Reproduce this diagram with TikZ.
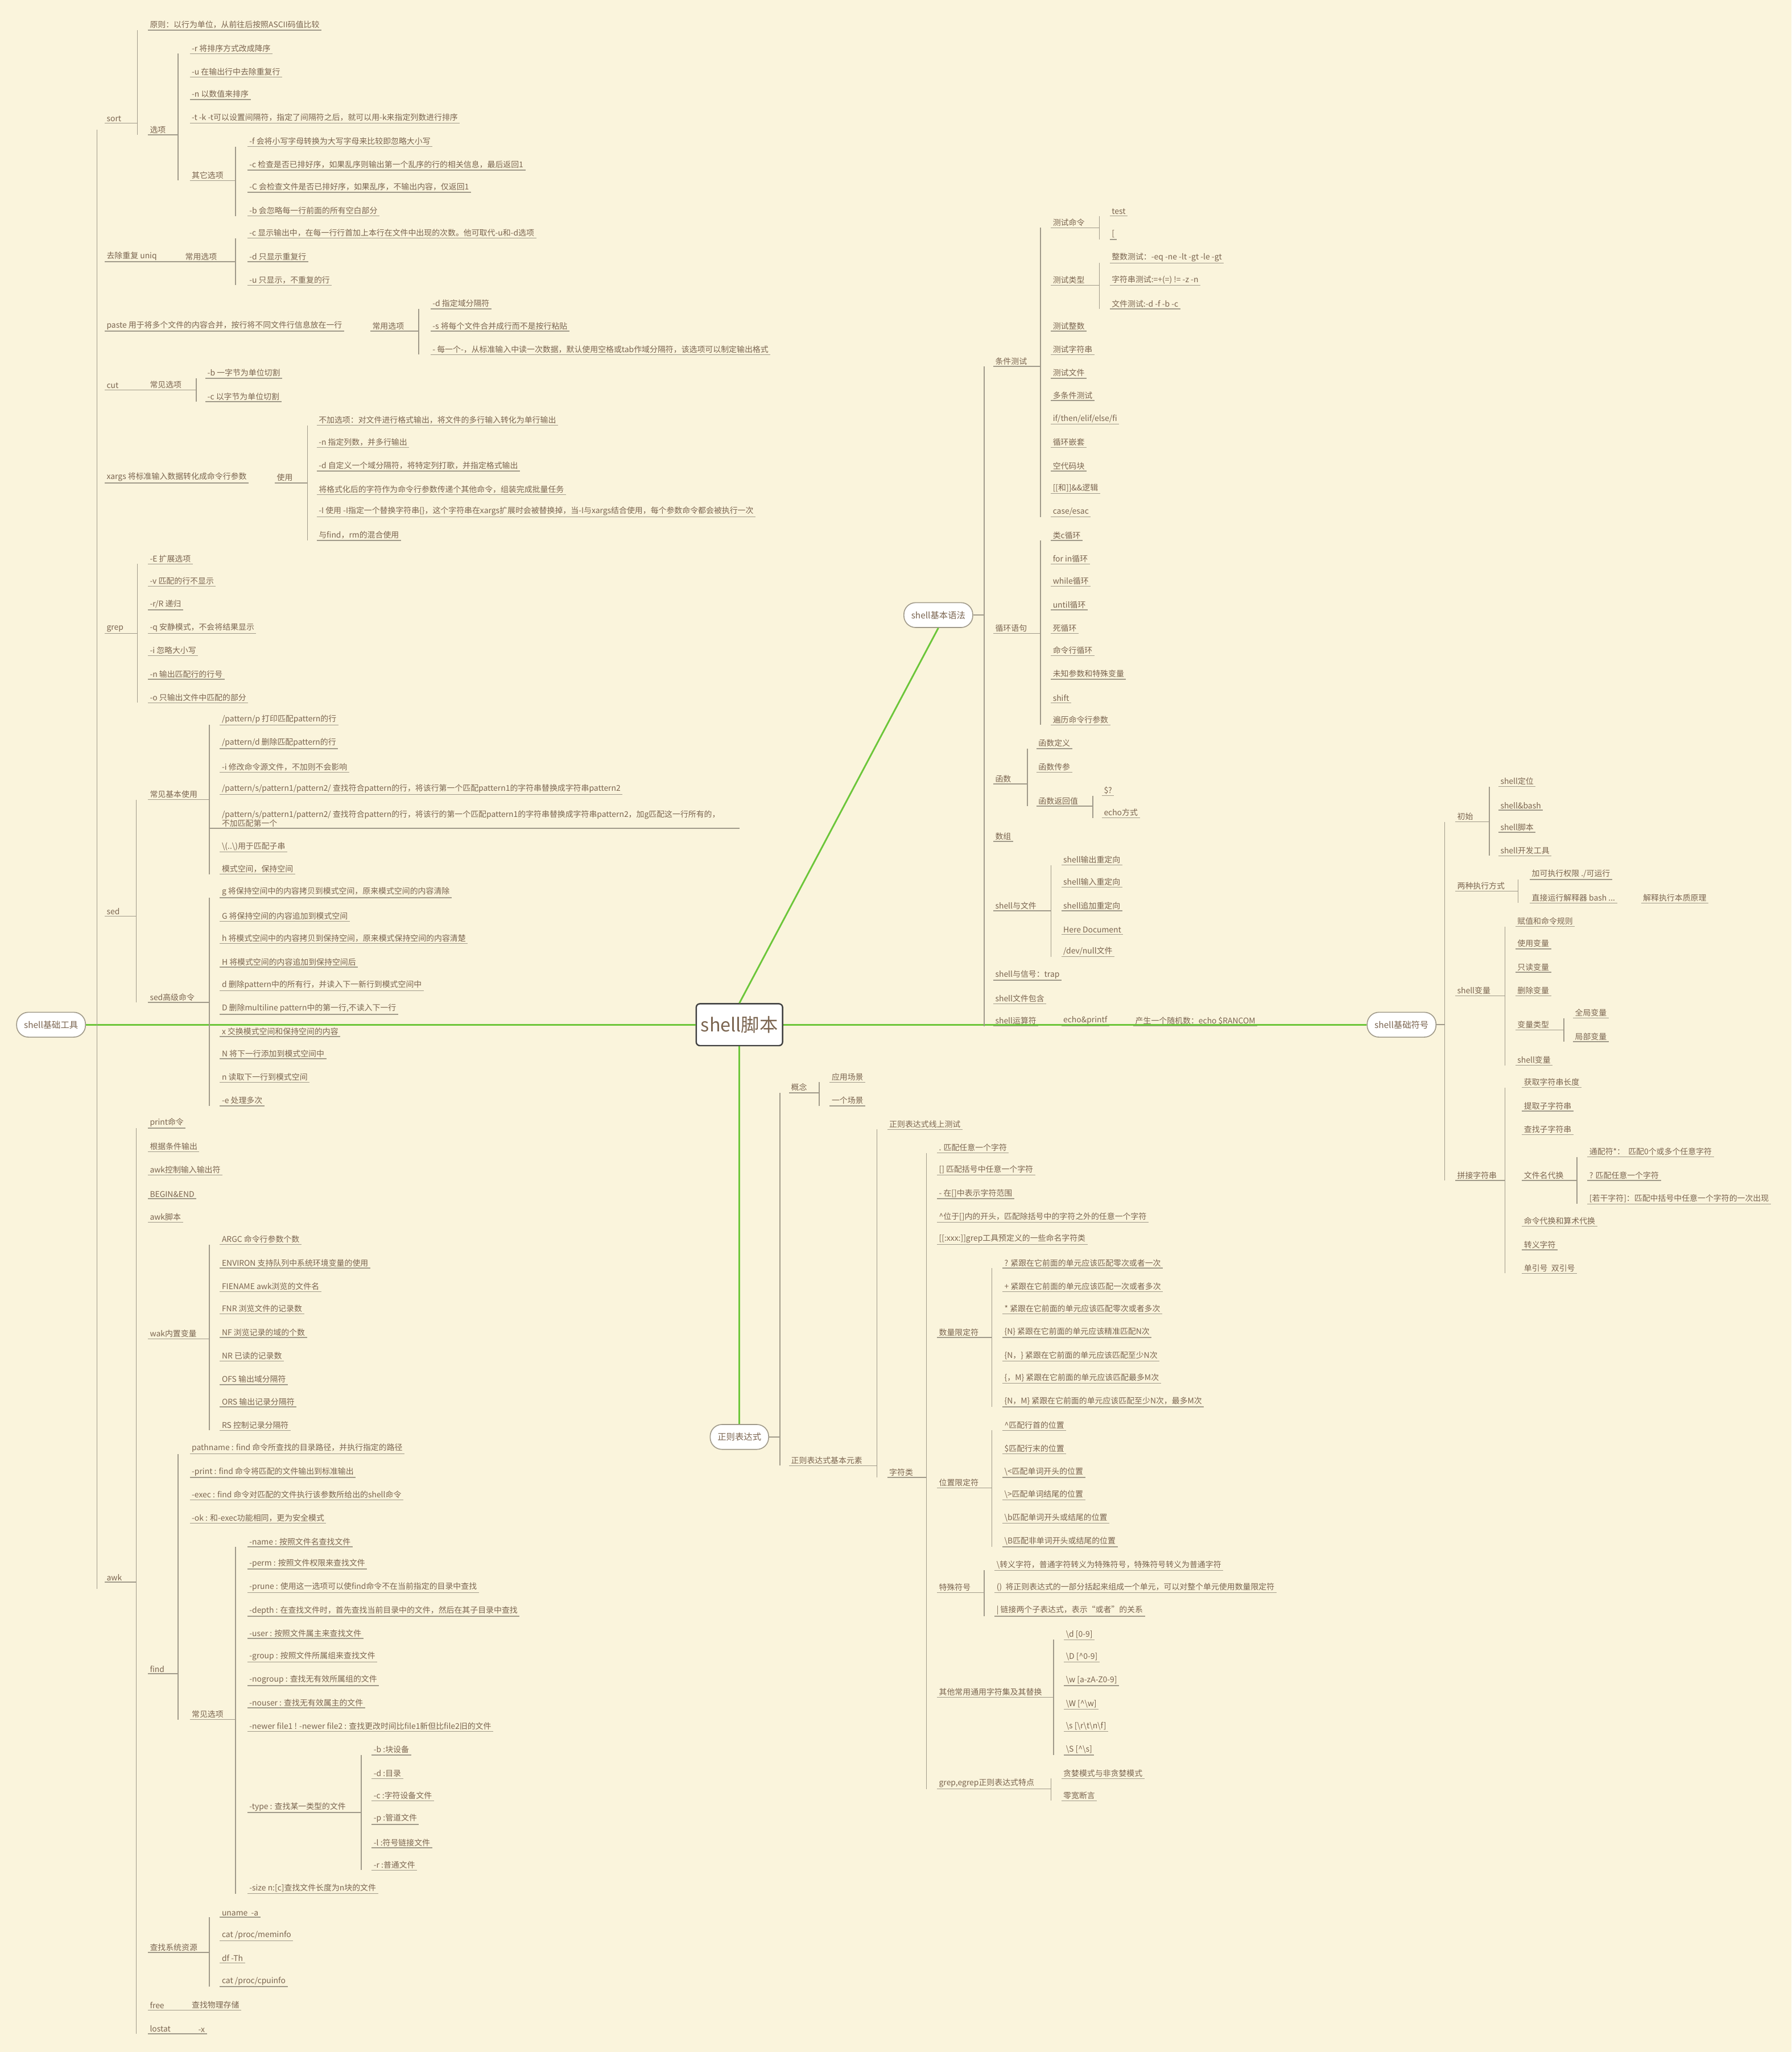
\documentclass[tikz,border=0pt]{standalone}
\usepackage{fontspec}
\setmainfont{Noto Sans CJK SC}
\definecolor{bg}{HTML}{FAF4DC}
\definecolor{tx}{HTML}{7B6550}
\definecolor{ln}{HTML}{A09A8A}
\definecolor{gr}{HTML}{6CC63A}
\newcounter{nn}
\newcommand\lf[3]{\stepcounter{nn}\node[lbl] (n\arabic{nn}) at ({#1},{-(#2)-5}) {#3};\draw[ul] ({#1},{-(#2)-5}) -- (n\arabic{nn}.south east);}
\newcommand\vb[5]{\draw[ul] ({#2},{-(#3)-5}) -- ({#1},{-(#3)-5});\draw[ul] ({#1},{-(#4)-5}) -- ({#1},{-(#5)-5});}
\tikzset{lbl/.style={anchor=south west,inner xsep=2pt,inner ysep=1.5pt,text=tx,font=\fontsize{8.6}{10}\selectfont},
ul/.style={draw=ln,line width=0.9pt},
gl/.style={draw=gr,line width=1.8pt},
ov/.style={draw=ln,fill=white,rounded corners=0.45cm,minimum height=0.95cm,inner xsep=8pt,text=tx,font=\fontsize{9.5}{11}\selectfont,line width=1pt}}
\begin{document}
\begin{tikzpicture}[x=0.05cm,y=0.05cm]
\fill[bg] (0,0) rectangle (1369,-1568);
\useasboundingbox (0,0) rectangle (1369,-1568);
% main nodes
\node[draw=black!75,fill=white,rounded corners=4pt,line width=1.5pt,minimum width=3.3cm,minimum height=1.6cm,text=tx,font=\fontsize{20}{22}\selectfont] (c) at (565,-783) {shell脚本};
\node[ov] (tool) at (39,-783) {shell基础工具};
\node[ov] (syn) at (717,-470) {shell基本语法};
\node[ov] (sym) at (1071,-783) {shell基础符号};
\node[ov] (re) at (565,-1098) {正则表达式};
\draw[gl] (tool.east) -- (c.west);
\draw[gl] (c.east) -- (sym.west);
\draw[gl] (c.north) -- (syn.south);
\draw[gl] (c.south) -- (re.north);
% ===== left: tools
\draw[ul] (74,-99) -- (74,-1214);
\lf{80}{89}{sort}\lf{80}{195}{去除重复 uniq}\lf{80}{248}{paste 用于将多个文件的内容合并，按行将不同文件行信息放在一行}
\lf{80}{293}{cut}\lf{80}{364}{xargs 将标准输入数据转化成命令行参数}\lf{80}{479}{grep}\lf{80}{695}{sed}\lf{80}{1204}{awk}
% sort
\vb{105}{80}{89}{18}{98}
\lf{113}{18}{原则：以行为单位，从前往后按照ASCII码值比较}\lf{113}{98}{选项}
\vb{136}{113}{98}{36}{133}
\lf{145}{36}{-r 将排序方式改成降序}\lf{145}{54}{-u 在输出行中去除重复行}\lf{145}{71}{-n 以数值来排序}
\lf{145}{89}{-t -k -t可以设置间隔符，指定了间隔符之后，就可以用-k来指定列数进行排序}\lf{145}{133}{其它选项}
\vb{180}{145}{133}{107}{160}
\lf{189}{107}{-f 会将小写字母转换为大写字母来比较即忽略大小写}
\lf{189}{125}{-c 检查是否已排好序，如果乱序则输出第一个乱序的行的相关信息，最后返回1}
\lf{189}{142}{-C 会检查文件是否已排好序，如果乱序，不输出内容，仅返回1}
\lf{189}{160}{-b 会忽略每一行前面的所有空白部分}
% uniq
\lf{140}{195}{常用选项}\draw[ul] (80,-200) -- (140,-200);
\vb{180}{140}{195}{177}{213}
\lf{189}{177}{-c 显示输出中，在每一行行首加上本行在文件中出现的次数。他可取代-u和-d选项}
\lf{189}{195}{-d 只显示重复行}\lf{189}{213}{-u 只显示，不重复的行}
% paste
\lf{283}{248}{常用选项}
\vb{320}{283}{248}{231}{266}
\lf{329}{231}{-d 指定域分隔符}\lf{329}{248}{-s 将每个文件合并成行而不是按行粘贴}
\lf{329}{266}{- 每一个-，从标准输入中读一次数据，默认使用空格或tab作域分隔符，该选项可以制定输出格式}
% cut
\lf{113}{293}{常见选项}\draw[ul] (80,-298) -- (113,-298);
\vb{150}{113}{293}{284}{302}
\lf{157}{284}{-b 一字节为单位切割}\lf{157}{302}{-c 以字节为单位切割}
% xargs
\lf{210}{364}{使用}
\vb{235}{210}{364}{320}{408}
\lf{242}{320}{不加选项：对文件进行格式输出，将文件的多行输入转化为单行输出}
\lf{242}{337}{-n 指定列数，并多行输出}
\lf{242}{355}{-d 自定义一个域分隔符，将特定列打歌，并指定格式输出}
\lf{242}{373}{将格式化后的字符作为命令行参数传递个其他命令，组装完成批量任务}
\lf{242}{390}{-I 使用 -I指定一个替换字符串\{\}，这个字符串在xargs扩展时会被替换掉，当-I与xargs结合使用，每个参数命令都会被执行一次}
\lf{242}{408}{与find，rm的混合使用}
% grep
\vb{105}{80}{479}{426}{532}
\lf{113}{426}{-E 扩展选项}\lf{113}{443}{-v 匹配的行不显示}\lf{113}{461}{-r/R 递归}
\lf{113}{479}{-q 安静模式，不会将结果显示}\lf{113}{496}{-i 忽略大小写}\lf{113}{514}{-n 输出匹配行的行号}
\lf{113}{532}{-o 只输出文件中匹配的部分}
% sed
\vb{104}{80}{695}{606}{761}
\lf{113}{606}{常见基本使用}\lf{113}{761}{sed高级命令}
\vb{160}{113}{606}{549}{663}
\lf{168}{549}{/pattern/p 打印匹配pattern的行}\lf{168}{567}{/pattern/d 删除匹配pattern的行}
\lf{168}{585}{-i 修改命令源文件，不加则不会影响}
\lf{168}{602}{/pattern/s/pattern1/pattern2/ 查找符合pattern的行，将该行第一个匹配pattern1的字符串替换成字符串pattern2}
\node[lbl,align=left] (n2l) at (168,-633) {/pattern/s/pattern1/pattern2/ 查找符合pattern的行，将该行的第一个匹配pattern1的字符串替换成字符串pattern2，加g匹配这一行所有的，\\不加匹配第一个};
\draw[ul] (168,-633) -- (565,-633);\draw[ul] (160,-633) -- (168,-633);
\lf{168}{646}{\textbackslash(..\textbackslash)用于匹配子串}\lf{168}{663}{模式空间，保持空间}
\vb{160}{113}{761}{681}{840}
\lf{168}{681}{g 将保持空间中的内容拷贝到模式空间，原来模式空间的内容清除}
\lf{168}{699}{G 将保持空间的内容追加到模式空间}
\lf{168}{716}{h 将模式空间中的内容拷贝到保持空间，原来模式保持空间的内容清楚}
\lf{168}{734}{H 将模式空间的内容追加到保持空间后}
\lf{168}{752}{d 删除pattern中的所有行，并读入下一新行到模式空间中}
\lf{168}{770}{D 删除multiline pattern中的第一行,不读入下一行}
\lf{168}{787}{x 交换模式空间和保持空间的内容}
\lf{168}{804}{N 将下一行添加到模式空间中}
\lf{168}{822}{n 读取下一行到模式空间}
\lf{168}{840}{-e 处理多次}
% awk
\vb{104}{80}{1204}{857}{1549}
\lf{113}{857}{print命令}\lf{113}{875}{根据条件输出}\lf{113}{893}{awk控制输入输出符}
\lf{113}{911}{BEGIN\&END}\lf{113}{929}{awk脚本}\lf{113}{1018}{wak内置变量}\lf{113}{1274}{find}
\lf{113}{1487}{查找系统资源}\lf{113}{1531}{free}\lf{113}{1549}{lostat}
\vb{160}{113}{1018}{946}{1088}
\lf{168}{946}{ARGC 命令行参数个数}\lf{168}{964}{ENVIRON 支持队列中系统环境变量的使用}
\lf{168}{982}{FIENAME awk浏览的文件名}\lf{168}{999}{FNR 浏览文件的记录数}
\lf{168}{1017}{NF 浏览记录的域的个数}\lf{168}{1035}{NR 已读的记录数}
\lf{168}{1053}{OFS 输出域分隔符}\lf{168}{1070}{ORS 输出记录分隔符}\lf{168}{1088}{RS 控制记录分隔符}
% find
\vb{136}{113}{1274}{1106}{1309}
\lf{145}{1106}{pathname : find 命令所查找的目录路径，并执行指定的路径}
\lf{145}{1124}{-print : find 命令将匹配的文件输出到标准输出}
\lf{145}{1141}{-exec : find 命令对匹配的文件执行该参数所给出的shell命令}
\lf{145}{1159}{-ok : 和-exec功能相同，更为安全模式}
\lf{145}{1309}{常见选项}
\vb{180}{145}{1309}{1177}{1442}
\lf{189}{1177}{-name : 按照文件名查找文件}\lf{189}{1194}{-perm : 按照文件权限来查找文件}
\lf{189}{1212}{-prune : 使用这一选项可以使find命令不在当前指定的目录中查找}
\lf{189}{1230}{-depth : 在查找文件时，首先查找当前目录中的文件，然后在其子目录中查找}
\lf{189}{1247}{-user : 按照文件属主来查找文件}\lf{189}{1265}{-group : 按照文件所属组来查找文件}
\lf{189}{1283}{-nogroup : 查找无有效所属组的文件}\lf{189}{1300}{-nouser : 查找无有效属主的文件}
\lf{189}{1318}{-newer file1 ! -newer file2 : 查找更改时间比file1新但比file2旧的文件}
\lf{189}{1380}{-type : 查找某一类型的文件}\lf{189}{1442}{-size n:[c]查找文件长度为n块的文件}
\vb{276}{189}{1380}{1336}{1424}
\lf{284}{1336}{-b :块设备}\lf{284}{1354}{-d :目录}\lf{284}{1371}{-c :字符设备文件}
\lf{284}{1389}{-p :管道文件}\lf{284}{1407}{-l :符号链接文件}\lf{284}{1424}{-r :普通文件}
% sys resources
\vb{160}{113}{1487}{1460}{1513}
\lf{168}{1460}{uname \ -a}\lf{168}{1478}{cat /proc/meminfo}\lf{168}{1495}{df -Th}\lf{168}{1513}{cat /proc/cpuinfo}
\lf{145}{1531}{查找物理存储}\draw[ul] (113,-1536) -- (145,-1536);
\lf{150}{1549}{-x}\draw[ul] (113,-1554) -- (150,-1554);
% ===== shell基本语法
\draw[ul] (syn.east) -- (752,-470);\draw[ul] (752,-280) -- (752,-784);
\lf{759}{275}{条件测试}\lf{759}{479}{循环语句}\lf{759}{594}{函数}\lf{759}{638}{数组}
\lf{759}{691}{shell与文件}\lf{759}{744}{shell与信号：trap}\lf{759}{762}{shell文件包含}\lf{759}{779}{shell运算符}
\vb{795}{759}{275}{169}{390}
\lf{803}{169}{测试命令}\lf{803}{213}{测试类型}\lf{803}{248}{测试整数}\lf{803}{266}{测试字符串}
\lf{803}{284}{测试文件}\lf{803}{301}{多条件测试}\lf{803}{319}{if/then/elif/else/fi}\lf{803}{337}{循环嵌套}
\lf{803}{355}{空代码块}\lf{803}{372}{[[和]]\&\&逻辑}\lf{803}{390}{case/esac}
\vb{840}{803}{169}{160}{178}
\lf{848}{160}{test}\lf{848}{178}{[}
\vb{840}{803}{213}{196}{231}
\lf{848}{196}{整数测试：-eq -ne -lt -gt -le -gt}\lf{848}{213}{字符串测试:=+(=) != -z -n}\lf{848}{231}{文件测试:-d -f -b -c}
\vb{795}{759}{479}{408}{549}
\lf{803}{408}{类c循环}\lf{803}{426}{for in循环}\lf{803}{443}{while循环}\lf{803}{461}{until循环}
\lf{803}{479}{死循环}\lf{803}{496}{命令行循环}\lf{803}{514}{未知参数和特殊变量}\lf{803}{532}{shift}\lf{803}{549}{遍历命令行参数}
\vb{785}{759}{594}{567}{611}
\lf{792}{567}{函数定义}\lf{792}{585}{函数传参}\lf{792}{611}{函数返回值}
\vb{835}{792}{611}{603}{620}
\lf{842}{603}{\$?}\lf{842}{620}{echo方式}
\vb{803}{759}{691}{656}{726}
\lf{811}{656}{shell输出重定向}\lf{811}{673}{shell输入重定向}\lf{811}{691}{shell追加重定向}
\lf{811}{709}{Here Document}\lf{811}{726}{/dev/null文件}
\lf{811}{779}{echo\&printf}\lf{866}{779}{产生一个随机数：echo \$RANCOM}
% ===== shell基础符号
\draw[ul] (sym.east) -- (1104,-783);\draw[ul] (1104,-628) -- (1104,-902);
\lf{1112}{623}{初始}\lf{1112}{676}{两种执行方式}\lf{1112}{756}{shell变量}\lf{1112}{897}{拼接字符串}
\vb{1138}{1112}{623}{596}{649}
\lf{1145}{596}{shell定位}\lf{1145}{614}{shell\&bash}\lf{1145}{631}{shell脚本}\lf{1145}{649}{shell开发工具}
\vb{1160}{1112}{676}{667}{685}
\lf{1169}{667}{加可执行权限 ./可运行}\lf{1169}{685}{直接运行解释器 bash ...}\lf{1254}{685}{解释执行本质原理}
\vb{1150}{1112}{756}{703}{809}
\lf{1158}{703}{赋值和命令规则}\lf{1158}{720}{使用变量}\lf{1158}{738}{只读变量}\lf{1158}{756}{删除变量}
\lf{1158}{782}{变量类型}\lf{1158}{809}{shell变量}
\vb{1195}{1158}{782}{773}{791}
\lf{1202}{773}{全局变量}\lf{1202}{791}{局部变量}
\vb{1150}{1112}{897}{826}{968}
\lf{1163}{826}{获取字符串长度}\lf{1163}{844}{提取子字符串}\lf{1163}{862}{查找子字符串}\lf{1163}{897}{文件名代换}
\lf{1163}{932}{命令代换和算术代换}\lf{1163}{950}{转义字符}\lf{1163}{968}{单引号 \ 双引号}
\vb{1205}{1163}{897}{879}{915}
\lf{1213}{879}{通配符*： \ 匹配0个或多个任意字符}\lf{1213}{897}{? 匹配任意一个字符}
\lf{1213}{915}{[若干字符]：匹配中括号中任意一个字符的一次出现}
% ===== 正则表达式
\draw[ul] (re.east) -- (596,-1098);\draw[ul] (596,-835) -- (596,-1120);
\lf{603}{830}{概念}\lf{603}{1115}{正则表达式基本元素}
\vb{626}{603}{830}{822}{840}
\lf{634}{822}{应用场景}\lf{634}{840}{一个场景}
\vb{670}{603}{1115}{858}{1124}
\lf{678}{858}{正则表达式线上测试}\lf{678}{1124}{字符类}
\vb{708}{678}{1124}{876}{1362}
\lf{716}{876}{. 匹配任意一个字符}\lf{716}{893}{[] 匹配括号中任意一个字符}\lf{716}{911}{- 在[]中表示字符范围}
\lf{716}{929}{\textasciicircum 位于[]内的开头，匹配除括号中的字符之外的任意一个字符}
\lf{716}{946}{[[:xxx:]]grep工具预定义的一些命名字符类}
\lf{716}{1017}{数量限定符}\lf{716}{1132}{位置限定符}\lf{716}{1212}{特殊符号}
\lf{716}{1292}{其他常用通用字符集及其替换}\lf{716}{1362}{grep,egrep正则表达式特点}
\vb{758}{716}{1017}{964}{1070}
\lf{766}{964}{? 紧跟在它前面的单元应该匹配零次或者一次}\lf{766}{982}{+ 紧跟在它前面的单元应该匹配一次或者多次}
\lf{766}{999}{* 紧跟在它前面的单元应该匹配零次或者多次}\lf{766}{1017}{\{N\} 紧跟在它前面的单元应该精准匹配N次}
\lf{766}{1035}{\{N，\} 紧跟在它前面的单元应该匹配至少N次}\lf{766}{1052}{\{，M\} 紧跟在它前面的单元应该匹配最多M次}
\lf{766}{1070}{\{N，M\} 紧跟在它前面的单元应该匹配至少N次，最多M次}
\vb{758}{716}{1132}{1088}{1177}
\lf{766}{1088}{\textasciicircum 匹配行首的位置}\lf{766}{1106}{\$匹配行末的位置}\lf{766}{1124}{\textbackslash<匹配单词开头的位置}
\lf{766}{1141}{\textbackslash>匹配单词结尾的位置}\lf{766}{1159}{\textbackslash b匹配单词开头或结尾的位置}\lf{766}{1177}{\textbackslash B匹配非单词开头或结尾的位置}
\vb{752}{716}{1212}{1195}{1230}
\lf{760}{1195}{\textbackslash 转义字符，普通字符转义为特殊符号，特殊符号转义为普通字符}
\lf{760}{1212}{() \ 将正则表达式的一部分括起来组成一个单元，可以对整个单元使用数量限定符}
\lf{760}{1230}{| 链接两个子表达式，表示“或者”的关系}
\vb{805}{716}{1292}{1248}{1336}
\lf{813}{1248}{\textbackslash d [0-9]}\lf{813}{1265}{\textbackslash D [\textasciicircum 0-9]}\lf{813}{1283}{\textbackslash w [a-zA-Z0-9]}
\lf{813}{1301}{\textbackslash W [\textasciicircum\textbackslash w]}\lf{813}{1318}{\textbackslash s [\textbackslash r\textbackslash t\textbackslash n\textbackslash f]}\lf{813}{1336}{\textbackslash S [\textasciicircum\textbackslash s]}
\vb{803}{716}{1362}{1354}{1371}
\lf{811}{1354}{贪婪模式与非贪婪模式}\lf{811}{1371}{零宽断言}
\end{tikzpicture}
\end{document}
